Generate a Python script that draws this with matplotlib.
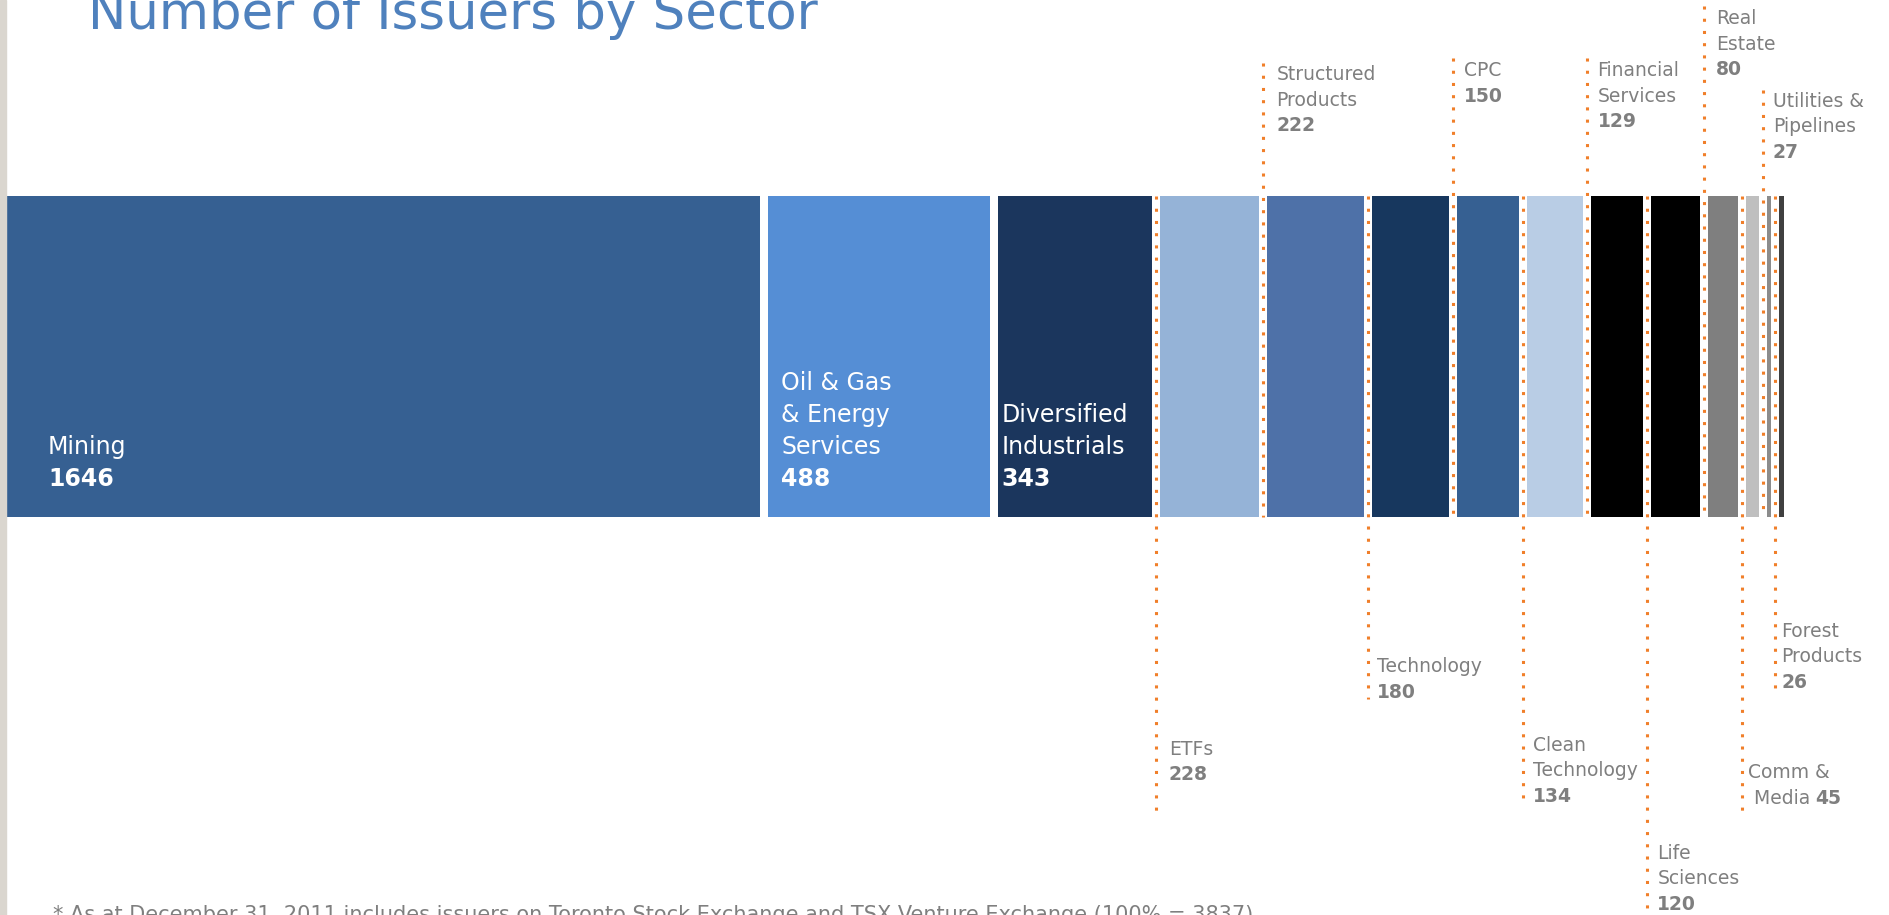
import matplotlib.pyplot as plt
import numpy as np
from matplotlib.patches import Rectangle

# sectors in the order they sit in the bar
sectors = ['Mining', 'Oil & Gas\n& Energy\nServices', 'Diversified\nIndustrials',
           'ETFs', 'Structured\nProducts', 'Technology', 'CPC',
           'Clean\nTechnology', 'Financial\nServices', 'Life\nSciences',
           'Real\nEstate', 'Comm &\n Media', 'Utilities &\nPipelines',
           'Forest\nProducts']
issuers = [1646, 488, 343, 228, 222, 180, 150, 134, 129, 120, 80, 45, 27, 26]
colors = ['#366092', '#558ED5', '#1B365D', '#95B3D7', '#4E71A8', '#17375E',
          '#366092', '#B9CDE5', '#000000', '#000000', '#7F7F7F', '#BFBFBF',
          '#8C8C8C', '#404040']

title = 'Number of Issuers by Sector'
footnote = ('* As at December 31, 2011 includes issuers on Toronto Stock Exchange '
            'and TSX Venture Exchange (100% = 3837)')

# layout, in pixels from the top of the picture
W, H = 1889, 915
PT = 0.72                      # points per pixel at dpi 100
bar_top, bar_bot = 196, 517
orange = '#F07F2A'
grey = '#7F7F7F'

# labels inside the three big segments: shift from segment start
inside_dx = [59, 17, 7]
# callouts for the rest: side, far end of the dotted line, first baseline, text shift
call_side = ['below', 'above', 'below', 'above', 'below', 'above', 'below',
             'above', 'below', 'above', 'below']
call_end = [817, 63, 699, 58, 801, 58, 915, 6, 817, 90, 689]
call_base = [755, 80, 672, 76, 751, 76, 859, 24, 778, 107, 637]
call_dx = [13, 13, 9, 11, 10, 11, 10, 12, 6, 10, 6]

fig = plt.figure(figsize=(W / 100, H / 100), dpi=100)
ax = fig.add_axes([0, 0, 1, 1])
ax.set_xlim(23.4, 4033)
ax.set_ylim(H, 0)
ax.axis('off')

lefts = np.concatenate([[0], np.cumsum(issuers)[:-1]])
gap = 8
ax.barh((bar_top + bar_bot) / 2, issuers, left=lefts,
        height=bar_bot - bar_top + gap, color=colors,
        edgecolor='white', linewidth=gap * PT, zorder=2)


def put(text, x, y, dx, **kw):
    return ax.annotate(text, (x, y), xytext=(dx * PT, 0),
                       textcoords='offset points', ha='left',
                       va='baseline', annotation_clip=False, **kw)


# big segments: white text, number at the bottom
for i in range(3):
    lines = sectors[i].split('\n')
    n = len(lines)
    for j, line in enumerate(lines):
        put(line, lefts[i], 486 - 32 * (n - j), inside_dx[i],
            color='white', fontsize=17, zorder=5)
    put(str(issuers[i]), lefts[i], 486, inside_dx[i],
        color='white', fontsize=17, fontweight='bold', zorder=5)

# small segments: dotted leader and grey callout
step = 25.5
fs = 13.5
for k in range(len(call_side)):
    i = k + 3
    x = lefts[i]
    if call_side[k] == 'above':
        ax.plot([x, x], [call_end[k], bar_bot], color=orange, lw=2.2,
                linestyle=(0, (1, 3)), zorder=4)
    else:
        ax.plot([x, x], [bar_top, call_end[k]], color=orange, lw=2.2,
                linestyle=(0, (1, 3)), zorder=4)
    lines = sectors[i].split('\n')
    y0 = call_base[k]
    last = None
    for j, line in enumerate(lines):
        last = put(line, x, y0 + step * j, call_dx[k], color=grey,
                   fontsize=fs, zorder=5)
    if sectors[i].startswith('Comm'):
        ax.annotate(str(issuers[i]), xy=(1, 0), xycoords=last,
                    xytext=(4, 0), textcoords='offset points',
                    ha='left', va='bottom', color=grey, fontsize=fs,
                    fontweight='bold')
    else:
        put(str(issuers[i]), x, y0 + step * len(lines), call_dx[k],
            color=grey, fontsize=fs, fontweight='bold', zorder=5)

fig.text(88 / W, 1 - 29 / H, title, color='#4F81BD', fontsize=37,
         ha='left', va='baseline')
fig.text(53 / W, 1 - 921 / H, footnote, color=grey, fontsize=15,
         ha='left', va='baseline')

fig.patches.append(Rectangle((0, 0), 6 / W, 1, transform=fig.transFigure,
                             color='#DAD6CF', zorder=3))

fig.savefig('out.png', dpi=100)
